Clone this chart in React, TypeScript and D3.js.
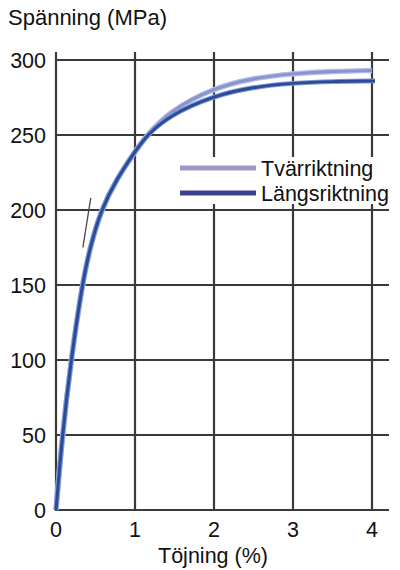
import React, { useEffect, useRef } from "react";
import * as d3 from "d3";

// strain (%) vs stress (MPa)
const langsStrain = [0, 0.08, 0.19, 0.33, 0.43, 0.57, 0.76, 1.013, 1.152, 1.443, 1.987, 2.494, 3.0, 3.506, 4.038];
const langsStress = [0, 50, 100, 150, 175, 200, 220, 240, 250, 263.3, 276, 282, 284.7, 285.7, 286];
const tvarStrain = [0, 0.08, 0.19, 0.33, 0.43, 0.57, 0.76, 1.013, 1.152, 1.443, 1.987, 2.494, 3.0, 3.506, 4.0];
const tvarStress = [0, 50, 100, 150, 175, 200, 220, 240, 250, 266, 281.3, 288, 291, 292.5, 293];
const elasticStrain = [0.34, 0.44];
const elasticStress = [175, 208];

const xTicks = [0, 1, 2, 3, 4];
const yTicks = [0, 50, 100, 150, 200, 250, 300];
const seriesNames = ["Tvärriktning", "Längsriktning"];

const FONT = "'Liberation Sans', Arial, Helvetica, sans-serif";

export default function App() {
  const svgRef = useRef<SVGSVGElement>(null);
  const width = 400;
  const height = 570;

  useEffect(() => {
    const svg = d3.select(svgRef.current);
    svg.selectAll("*").remove();

    const x = d3.scaleLinear().domain([0, 4]).range([56, 372]);
    const y = d3.scaleLinear().domain([0, 300]).range([510, 60]);
    const gridRight = 389;
    const gridTop = 52;
    const gridColor = "#3a3a3a";

    // horizontal grid
    svg
      .append("g")
      .selectAll("line")
      .data(yTicks)
      .join("line")
      .attr("x1", x(0))
      .attr("x2", gridRight)
      .attr("y1", (d) => y(d))
      .attr("y2", (d) => y(d))
      .attr("stroke", gridColor)
      .attr("stroke-width", 2.2);

    // vertical grid
    svg
      .append("g")
      .selectAll("line")
      .data(xTicks)
      .join("line")
      .attr("x1", (d) => x(d))
      .attr("x2", (d) => x(d))
      .attr("y1", gridTop)
      .attr("y2", y(0) + 1)
      .attr("stroke", gridColor)
      .attr("stroke-width", 2.2);

    // legend background hides grid behind it
    svg
      .append("rect")
      .attr("x", 176)
      .attr("y", 157)
      .attr("width", 216)
      .attr("height", 47)
      .attr("fill", "#fff");

    const toPts = (xs: number[], ys: number[]) => xs.map((v, i) => [v, ys[i]] as [number, number]);
    const line = d3
      .line<[number, number]>()
      .x((d) => x(d[0]))
      .y((d) => y(d[1]))
      .curve(d3.curveBasis);

    const tvar = toPts(tvarStrain, tvarStress);
    const langs = toPts(langsStrain, langsStress);

    svg.append("path").datum(tvar).attr("fill", "none").attr("stroke", "#b4bde6").attr("stroke-width", 5.5).attr("d", line);
    svg.append("path").datum(tvar).attr("fill", "none").attr("stroke", "#8a93cf").attr("stroke-width", 3).attr("d", line);
    svg.append("path").datum(langs).attr("fill", "none").attr("stroke", "#7f9ad6").attr("stroke-width", 5).attr("d", line);
    svg.append("path").datum(langs).attr("fill", "none").attr("stroke", "#2b4a98").attr("stroke-width", 3).attr("d", line);

    svg
      .append("path")
      .datum(toPts(elasticStrain, elasticStress))
      .attr("fill", "none")
      .attr("stroke", "#444")
      .attr("stroke-width", 1.3)
      .attr("d", d3.line<[number, number]>().x((d) => x(d[0])).y((d) => y(d[1])));

    // legend
    const legendColors = ["#9b98cc", "#3a428f"];
    const lg = svg.append("g").selectAll("g").data(seriesNames).join("g")
      .attr("transform", (_, i) => `translate(180,${168 + i * 25})`);
    lg.append("line").attr("x1", 0).attr("x2", 76).attr("stroke", (_, i) => legendColors[i]).attr("stroke-width", 5);
    lg.append("text")
      .attr("x", 81)
      .attr("y", 7.5)
      .attr("font-family", FONT)
      .attr("font-size", 21.5)
      .attr("fill", "#111")
      .text((d) => d);

    // y tick labels
    svg
      .append("g")
      .selectAll("text")
      .data(yTicks)
      .join("text")
      .attr("x", 46)
      .attr("y", (d) => y(d) + 7.5)
      .attr("text-anchor", "end")
      .attr("font-family", FONT)
      .attr("font-size", 21.5)
      .attr("fill", "#111")
      .text((d) => d);

    // x tick labels
    svg
      .append("g")
      .selectAll("text")
      .data(xTicks)
      .join("text")
      .attr("x", (d) => x(d))
      .attr("y", 537)
      .attr("text-anchor", "middle")
      .attr("font-family", FONT)
      .attr("font-size", 21.5)
      .attr("fill", "#111")
      .text((d) => d);

    svg
      .append("text")
      .attr("x", 213)
      .attr("y", 563)
      .attr("text-anchor", "middle")
      .attr("font-family", FONT)
      .attr("font-size", 21.5)
      .attr("fill", "#111")
      .text("Töjning (%)");

    svg
      .append("text")
      .attr("x", 8)
      .attr("y", 25)
      .attr("font-family", FONT)
      .attr("font-size", 22)
      .attr("fill", "#111")
      .text("Spänning (MPa)");
  }, []);

  return (
    <svg
      ref={svgRef}
      width={width}
      height={height}
      style={{ position: "absolute", left: 0, top: 0, background: "#fff" }}
    />
  );
}
